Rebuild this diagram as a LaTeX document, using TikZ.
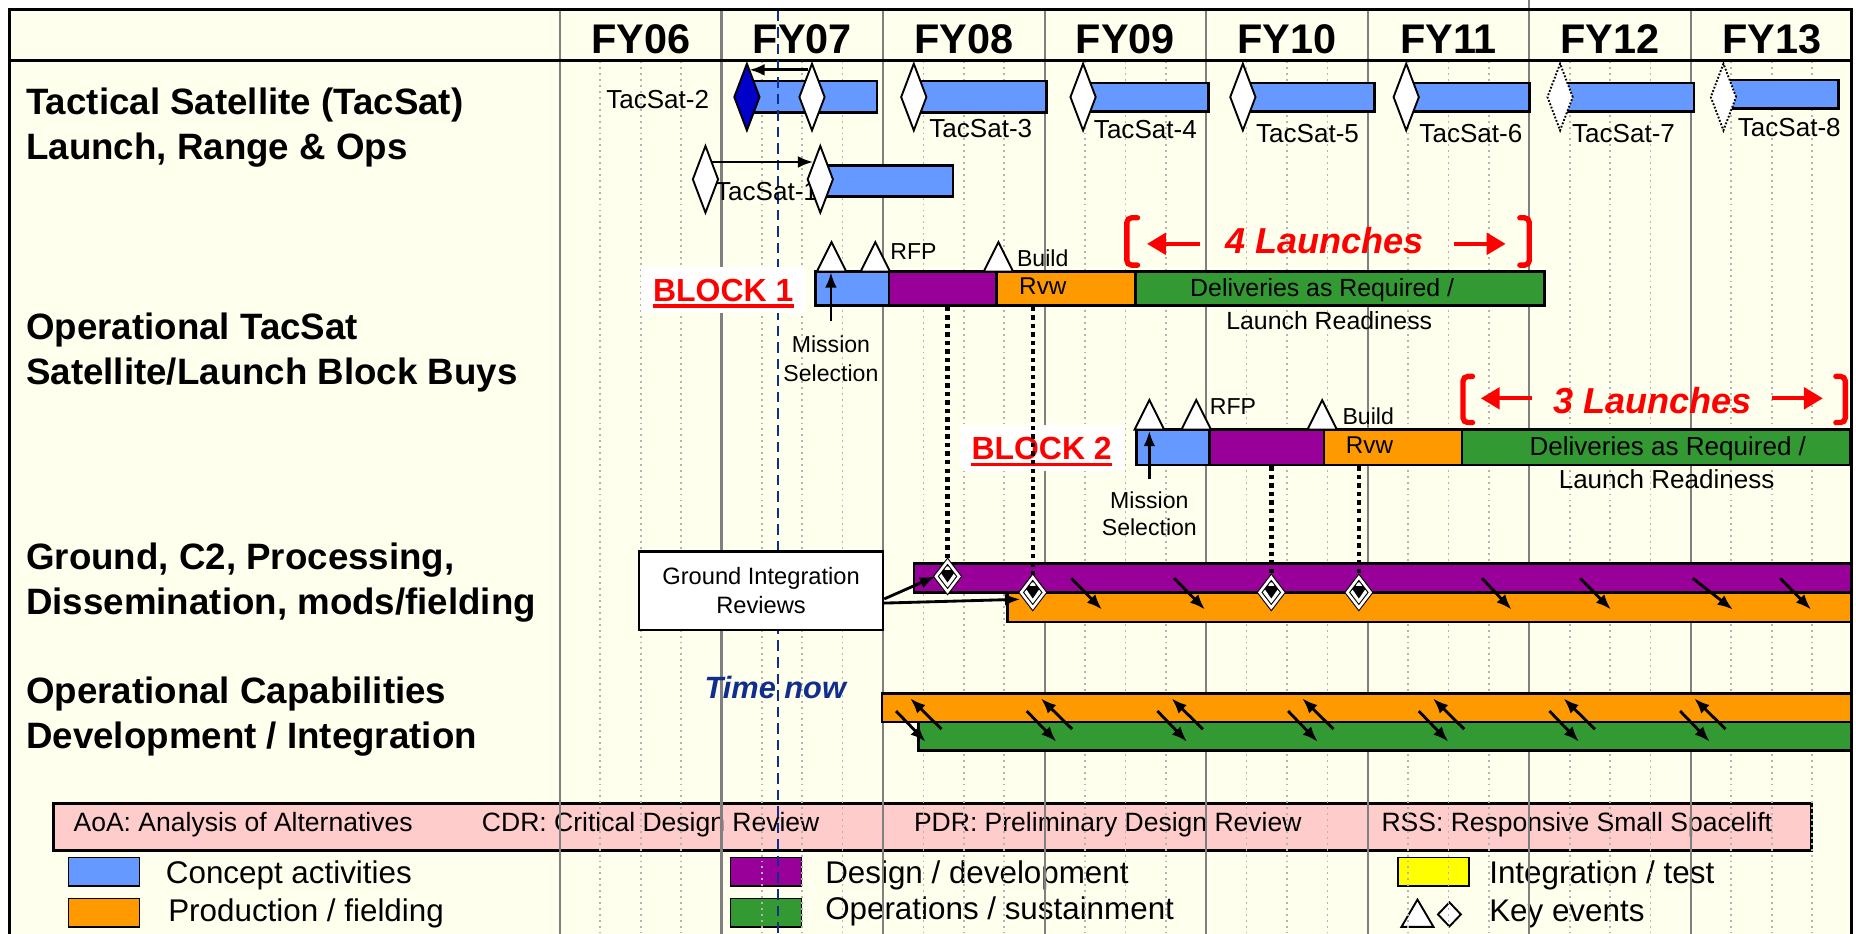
\documentclass[tikz,border=0pt]{standalone}
\usepackage{fontspec}
\setmainfont{Liberation Sans}
\usetikzlibrary{arrows.meta,shapes.geometric}
\definecolor{cream}{RGB}{255,255,238}
\definecolor{cblue}{RGB}{102,153,255}
\definecolor{cpurple}{RGB}{153,0,153}
\definecolor{corange}{RGB}{255,153,0}
\definecolor{cgreen}{RGB}{51,153,51}
\definecolor{cyellow}{RGB}{255,255,0}
\definecolor{cpink}{RGB}{255,204,204}
\definecolor{cnavy}{RGB}{16,46,140}
\definecolor{cdeep}{RGB}{0,0,200}
\definecolor{cgrid}{RGB}{128,128,128}
\definecolor{cdot}{RGB}{180,180,180}
\newcommand{\fsz}[1]{\fontsize{#1}{#1}\selectfont}

\begin{document}
\begin{tikzpicture}[x=1pt,y=-1pt,
   every node/.style={inner sep=0pt},
   grid/.style={cgrid,line width=1.8pt},
   qtr/.style={cdot,line width=1.4pt,dash pattern=on 1.6pt off 3.4pt},
   bar/.style={draw=black,line width=2.2pt},
   lnch/.style={diamond,draw=black,fill=white,line width=1.6pt,minimum width=22pt,minimum height=57pt},
   plan/.style={lnch,dash pattern=on 1.5pt off 1.5pt},
   gate/.style={diamond,fill=black,draw=black,line width=.9pt,double=white,double distance=2.2pt,
      minimum width=20pt,minimum height=26pt,
      path picture={\draw[white,line width=3pt,shift={(path picture bounding box.center)}]
         (-6.5,-1.5) -- (0,8) -- (6.5,-1.5) (-2.5,-7) -- (2.5,-7);}},
   yr/.style={font=\fsz{35}\bfseries,anchor=base},
   rowlbl/.style={font=\fsz{31}\bfseries,anchor=base west},
   sat/.style={font=\fsz{22},anchor=base west},
   tag/.style={font=\fsz{19.5},anchor=base west},
   mid/.style={font=\fsz{19.5},anchor=base},
   blk/.style={font=\fsz{27}\bfseries,text=red,fill=white,inner xsep=10pt,inner ysep=9.5pt,
      text height=20pt,text depth=0pt,anchor=base},
   lnchs/.style={font=\fsz{30.5}\bfseries\itshape,text=red,anchor=base},
   legtxt/.style={font=\fsz{26.5},anchor=base west},
   abbr/.style={font=\fsz{22.4},anchor=base west},
   arr/.style={-{Latex[length=13pt,width=10pt]},line width=2.4pt},
   conn/.style={line width=3.8pt,dash pattern=on 3.8pt off 3.4pt},
   redarr/.style={red,line width=3.6pt,-{Triangle[length=16pt,width=18pt]}},
   brk/.style={red,line width=4.5pt,rounded corners=4pt,line cap=round},
   keytri/.pic={\draw[fill=white,line width=1.6pt] (-12.5,0) -- (0,-25) -- (12.5,0) -- cycle;}
]
   \useasboundingbox (0,0) rectangle (1568,789);
   \fill[white] (0,0) rectangle (1568,789);
   \fill[cream] (8,8) rectangle (1564,789);

   % legend
   \draw[line width=2.5pt,fill=cpink] (45,679) rectangle (1530,718.7);
   \node[abbr] (ab1) at (62,702.6) {AoA: Analysis of Alternatives};
   \node[abbr] (ab2) at (407,702.6) {CDR: Critical Design Review};
   \node[abbr] (ab3) at (772,702.6) {PDR: Preliminary Design Review};
   \node[abbr] (ab4) at (1167,702.6) {RSS: Responsive Small Spacelift};
   \draw[line width=1.2pt,fill=cblue] (58,724.5) rectangle (118,748.5);
   \draw[line width=1.2pt,fill=corange] (58,759) rectangle (118,783);
   \draw[line width=1.2pt,fill=cpurple] (617,724.5) rectangle (677,748.5);
   \draw[line width=1.2pt,fill=cgreen] (617,759) rectangle (677,783);
   \draw[line width=1.2pt,fill=cyellow] (1181,724.5) rectangle (1241,748.5);
   \draw[line width=1.6pt,fill=white] (1184,783) -- (1197.5,760) -- (1211,783) -- cycle;
   \node[diamond,draw,fill=white,line width=1.6pt,minimum width=20pt,minimum height=21pt] (kd) at (1224.5,772.5) {};
   \node[legtxt] (lg1) at (140,746) {Concept activities};
   \node[legtxt] (lg2) at (142,778.6) {Production / fielding};
   \node[legtxt] (lg3) at (697,746) {Design / development};
   \node[legtxt] (lg4) at (697,776.5) {Operations / sustainment};
   \node[legtxt] (lg5) at (1258,746) {Integration / test};
   \node[legtxt] (lg6) at (1258,778.6) {Key events};

   % grid
   \foreach \k in {0,...,7}
      \foreach \q in {1,2,3}
         \draw[qtr] (473+136.5*\k+34.125*\q,52) -- (473+136.5*\k+34.125*\q,789);
   \foreach \k in {0,...,7}
      \draw[grid] (473+136.5*\k,9) -- (473+136.5*\k,789);
   \draw[grid] (1292,0) -- (1292,9);
   \draw[line width=2.5pt] (8,789) -- (8,8) -- (1564,8) -- (1564,789);
   \draw[line width=2.5pt] (8,51) -- (1564,51);

   \foreach \fy [count=\k from 0] in {FY06,FY07,FY08,FY09,FY10,FY11,FY12,FY13}
      \node[yr] (fy\k) at (541.25+136.5*\k,45.5) {\fy};

   \node[rowlbl] (r1a) at (22,97) {Tactical Satellite (TacSat)};
   \node[rowlbl] (r1b) at (22,135) {Launch, Range \& Ops};
   \node[rowlbl] (r2a) at (22,287) {Operational TacSat};
   \node[rowlbl] (r2b) at (22,325) {Satellite/Launch Block Buys};
   \node[rowlbl] (r3a) at (22,481) {Ground, C2, Processing,};
   \node[rowlbl] (r3b) at (22,519) {Dissemination, mods/fielding};
   \node[rowlbl] (r4a) at (22,594) {Operational Capabilities};
   \node[rowlbl] (r4b) at (22,632) {Development / Integration};

   % TacSat launches
   \draw[bar,fill=cblue] (631,68.5) rectangle (741,95);
   \coordinate (tn1) at (657.5,9);
   \coordinate (tn2) at (657.5,789);
   \draw[cnavy,line width=1.6pt,dash pattern=on 9pt off 5pt] (tn1) -- (tn2);
   \draw[bar,fill=cblue] (772,68.5) rectangle (884,95);
   \draw[bar,fill=cblue] (915,70) rectangle (1021,94);
   \draw[bar,fill=cblue] (1050,70) rectangle (1161,94);
   \draw[bar,fill=cblue] (1188,70) rectangle (1292,94);
   \draw[bar,fill=cblue] (1318,70) rectangle (1431,94);
   \draw[bar,fill=cblue] (1456,67.6) rectangle (1553,91.5);
   \draw[bar,fill=cblue] (693,140) rectangle (805,166);

   \node[sat] (l2) at (512,91.5) {TacSat-2};
   \node[sat] (l3) at (785,116) {TacSat-3};
   \node[sat] (l4) at (924,117) {TacSat-4};
   \node[sat] (l5) at (1061,120.5) {TacSat-5};
   \node[sat] (l6) at (1199,120.5) {TacSat-6};
   \node[sat] (l7) at (1328,120.5) {TacSat-7};
   \node[sat] (l8) at (1468,115.5) {TacSat-8};
   \node[sat] (l1) at (604,169) {TacSat-1};

   \node[lnch,fill=cdeep] (d2) at (631,82) {};
   \node[lnch] (d2b) at (686,82) {};
   \node[lnch] (d3) at (772,82) {};
   \node[lnch] (d4) at (915,82) {};
   \node[lnch] (d5) at (1050,82) {};
   \node[lnch] (d6) at (1188,82) {};
   \node[plan] (d7) at (1318,82) {};
   \node[plan] (d8) at (1456,82) {};
   \node[lnch] (d1a) at (596,151.5) {};
   \node[lnch] (d1b) at (693,151.5) {};

   \coordinate (a2s) at (683,59);
   \coordinate (a2e) at (633,59);
   \draw[arr] (a2s) -- (a2e);
   \draw[arr] (d1a.north east) -- (d1b.north west);

   % block 1
   \draw[bar,fill=cblue] (689,229.5) rectangle (751,258);
   \draw[bar,fill=cpurple] (751,229.5) rectangle (842,258);
   \draw[bar,fill=corange] (842,229.5) rectangle (959.5,258);
   \draw[bar,fill=cgreen] (959.5,229.5) rectangle (1305,258);
   \pic at (702.5,229.5) {keytri};
   \pic at (739.5,229.5) {keytri};
   \pic at (843.5,229.5) {keytri};
   \node[tag] (rfp1) at (752,219) {RFP};
   \node[tag] (bld1) at (859,225.3) {Build};
   \node[mid,font=\fsz{20.5}] (rvw1) at (881,249.2) {Rvw};
   \node[mid,font=\fsz{21}] (del1) at (1117,250.5) {Deliveries as Required /};
   \node[mid,font=\fsz{21}] (rdy1) at (1123,278.2) {Launch Readiness};
   \node[mid] (ms1t) at (702,298) {Mission};
   \node[mid] (ms1u) at (702,322.4) {Selection};
   \coordinate (ms1a) at (702,271);
   \coordinate (ms1b) at (702,230);
   \draw[arr] (ms1a) -- (ms1b);
   \node[blk] (blk1) at (611,254.8) {BLOCK 1};
   \draw[red,line width=2.8pt] ([xshift=10pt,yshift=-3.7pt]blk1.base west) -- ([xshift=-10pt,yshift=-3.7pt]blk1.base east);

   \draw[brk] (961,184) -- (952,184) -- (952,224) -- (961,224);
   \draw[brk] (1284,184) -- (1292,184) -- (1292,224) -- (1284,224);
   \coordinate (q4a) at (1014,206);
   \coordinate (q4b) at (969,206);
   \coordinate (q4c) at (1228,206);
   \coordinate (q4d) at (1272,206);
   \draw[redarr] (q4a) -- (q4b);
   \draw[redarr] (q4c) -- (q4d);
   \node[lnchs] (n4) at (1119,214) {4 Launches};

   % block 2
   \draw[bar,fill=cblue] (960,363) rectangle (1022,393);
   \draw[bar,fill=cpurple] (1022,363) rectangle (1118.5,393);
   \draw[bar,fill=corange] (1118.5,363) rectangle (1235,393);
   \draw[bar,fill=cgreen] (1235,363) rectangle (1563,393);
   \pic at (971,363) {keytri};
   \pic at (1010.6,363) {keytri};
   \pic at (1117,363) {keytri};
   \node[tag] (rfp2) at (1022,350.6) {RFP};
   \node[tag] (bld2) at (1134,359) {Build};
   \node[mid,font=\fsz{20.5}] (rvw2) at (1157,383.5) {Rvw};
   \node[mid,font=\fsz{22}] (del2) at (1409,385.2) {Deliveries as Required /};
   \node[mid,font=\fsz{22}] (rdy2) at (1408,412.5) {Launch Readiness};
   \node[mid] (ms2t) at (971,429.4) {Mission};
   \node[mid] (ms2u) at (971,452.8) {Selection};
   \coordinate (ms2a) at (971,405);
   \coordinate (ms2b) at (971,364);
   \draw[arr] (ms2a) -- (ms2b);
   \node[blk] (blk2) at (880,388.6) {BLOCK 2};
   \draw[red,line width=2.8pt] ([xshift=10pt,yshift=-3.7pt]blk2.base west) -- ([xshift=-10pt,yshift=-3.7pt]blk2.base east);

   \draw[brk] (1244,318) -- (1236,318) -- (1236,357) -- (1244,357);
   \draw[brk] (1551,318) -- (1559,318) -- (1559,357) -- (1551,357);
   \coordinate (q3a) at (1294,336.5);
   \coordinate (q3b) at (1251,336.5);
   \coordinate (q3c) at (1497,336.5);
   \coordinate (q3d) at (1540,336.5);
   \draw[redarr] (q3a) -- (q3b);
   \draw[redarr] (q3c) -- (q3d);
   \node[lnchs] (n3) at (1396,349.2) {3 Launches};

   % ground
   \draw[bar,fill=cpurple] (772,476) rectangle (1564,500.5);
   \draw[bar,fill=corange] (851,500.5) rectangle (1564,525.5);
   \node[gate] (g1) at (800.5,487) {};
   \node[gate] (g2) at (872.5,500.5) {};
   \node[gate] (g3) at (1074,500.5) {};
   \node[gate] (g4) at (1148,500.5) {};
   \coordinate (c1) at (800.5,259);
   \coordinate (c2) at (872.5,259);
   \coordinate (c3) at (1074,394);
   \coordinate (c4) at (1148,394);
   \draw[conn] (c1) -- (g1.north);
   \draw[conn] (c2) -- (g2.north);
   \draw[conn] (c3) -- (g3.north);
   \draw[conn] (c4) -- (g4.north);
   \foreach \x/\w in {905/26,992/26,1252/25,1335/26,1430/34,1504/26} {
      \coordinate (ga\x) at (\x,488.5);
      \coordinate (gb\x) at (\x+\w,515);
      \draw[arr] (ga\x) -- (gb\x);
   }
   \node[draw,fill=white,line width=2pt,minimum width=206pt,minimum height=66pt,
      align=center,font=\fontsize{20}{24}\selectfont] (gir) at (643,499) {Ground Integration\\Reviews};
   \coordinate (gr1) at (747,506);
   \coordinate (gr2) at (747,509.5);
   \coordinate (gr2e) at (862,506.3);
   \draw[arr] (gr1) -- (g1.west);
   \draw[arr] (gr2) -- (gr2e);

   % capabilities
   \node[font=\fsz{26}\bfseries\itshape,text=cnavy,anchor=base] (tnow) at (655,590) {Time now};
   \draw[bar,fill=corange] (745,586) rectangle (1564,610);
   \draw[bar,fill=cgreen] (776,610) rectangle (1564,634);
   \foreach \k in {0,...,6} {
      \coordinate (pa\k) at (757+110.4*\k,600.7);
      \coordinate (pb\k) at (782+110.4*\k,626.6);
      \coordinate (pc\k) at (795.4+110.4*\k,616);
      \coordinate (pd\k) at (769+110.4*\k,590);
      \draw[arr] (pa\k) -- (pb\k);
      \draw[arr] (pc\k) -- (pd\k);
   }
\end{tikzpicture}
\end{document}
